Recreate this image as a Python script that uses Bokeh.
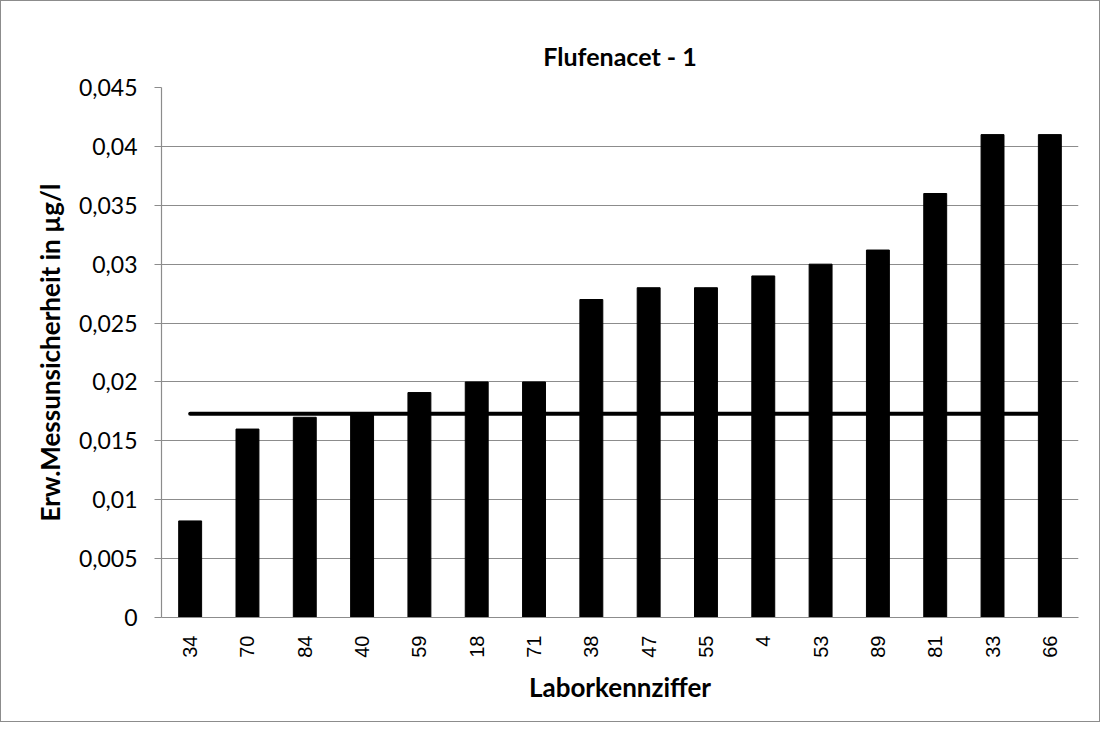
from bokeh.plotting import figure
from bokeh.models import FactorRange, Range1d, FixedTicker, CustomJSTickFormatter, ColumnDataSource
from bokeh.embed import file_html
from bokeh.resources import INLINE
import math

labs = ["34", "70", "84", "40", "59", "18", "71", "38", "47", "55", "4", "53", "89", "81", "33", "66"]
values = [0.0082, 0.016, 0.017, 0.0172, 0.0191, 0.02, 0.02, 0.027, 0.028, 0.028, 0.029, 0.03, 0.0312, 0.036, 0.041, 0.041]
ref_value = 0.0173
y_ticks = [0, 0.005, 0.01, 0.015, 0.02, 0.025, 0.03, 0.035, 0.04, 0.045]

FONT = "Lato"

p = figure(x_range=FactorRange(*labs, range_padding=0), y_range=Range1d(0, 0.045),
           frame_width=917, frame_height=530, output_backend="svg", toolbar_location=None,
           min_border_left=160, min_border_top=86, min_border_right=21, min_border_bottom=104,
           title="Flufenacet - 1")
p.styles = {"border": "1px solid #8c8c8c"}

src = ColumnDataSource(dict(x=labs, top=values))
p.vbar(x="x", top="top", width=0.4, bottom=0, source=src, fill_color="black", line_color="black")
p.line(x=[labs[0], labs[-1]], y=[ref_value, ref_value], line_color="black", line_width=4, line_cap="round")

p.title.align = "center"
p.title.text_font = FONT
p.title.text_font_size = "25px"
p.title.text_font_style = "bold"
p.title.text_color = "black"
p.title.offset = 0
p.title.standoff = 34

p.outline_line_color = None
p.xgrid.grid_line_color = None
p.ygrid.grid_line_color = "#8c8c8c"
p.ygrid.grid_line_width = 1.2

p.yaxis.ticker = FixedTicker(ticks=y_ticks)
p.yaxis.formatter = CustomJSTickFormatter(code="""
var s = tick.toFixed(3).replace(/0+$/, '').replace(/\\.$/, '');
return s.replace('.', ',');
""")
p.yaxis.axis_line_color = "#8c8c8c"
p.yaxis.axis_line_width = 1.2
p.yaxis.major_tick_line_color = "#8c8c8c"
p.yaxis.major_tick_out = 7
p.yaxis.major_tick_in = 0
p.yaxis.minor_tick_line_color = None
p.yaxis.major_label_text_font = FONT
p.yaxis.major_label_text_font_size = "23px"
p.yaxis.major_label_text_color = "black"
p.yaxis.major_label_standoff = 17
p.yaxis.axis_label = "Erw.Messunsicherheit in µg/l"
p.yaxis.axis_label_text_font = FONT
p.yaxis.axis_label_text_font_size = "26px"
p.yaxis.axis_label_text_font_style = "bold"
p.yaxis.axis_label_text_color = "black"
p.yaxis.axis_label_standoff = 10

p.xaxis.axis_line_color = "#8c8c8c"
p.xaxis.axis_line_width = 1.2
p.xaxis.major_tick_line_color = None
p.xaxis.major_label_orientation = math.pi / 2
p.xaxis.major_label_text_font = "Liberation Sans"
p.xaxis.major_label_text_font_size = "20px"
p.xaxis.major_label_text_color = "black"
p.xaxis.major_label_standoff = 12
p.xaxis.axis_label = "Laborkennziffer"
p.xaxis.axis_label_text_font = FONT
p.xaxis.axis_label_text_font_size = "26px"
p.xaxis.axis_label_text_font_style = "bold"
p.xaxis.axis_label_text_color = "black"
p.xaxis.axis_label_standoff = 10

p.background_fill_color = "white"
p.border_fill_color = "white"

open("out.html", "w").write(file_html(p, INLINE))
